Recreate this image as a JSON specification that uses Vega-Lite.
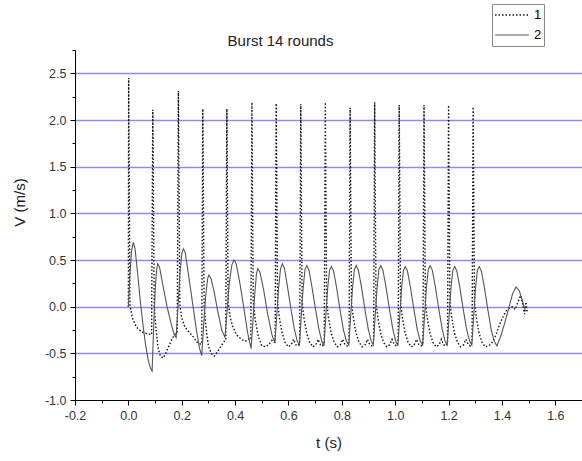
{
  "$schema": "https://vega.github.io/schema/vega-lite/v6.json",
  "width": 507,
  "height": 350,
  "autosize": {"type": "none"},
  "padding": {"left": 75, "top": 50, "right": 0, "bottom": 61},
  "background": "white",
  "title": {"text": "Burst 14 rounds", "font": "Liberation Sans", "fontSize": 15, "fontWeight": "normal", "color": "#222", "anchor": "middle", "dx": -48, "dy": 49, "offset": 4},
  "data": {"values": [
    {"s":"1","t":0,"v":0},{"s":"1","t":0.001,"v":2.45},{"s":"1","t":0.006,"v":0.02},{"s":"1","t":0.015,"v":-0.12},{"s":"1","t":0.03,"v":-0.22},{"s":"1","t":0.05,"v":-0.27},{"s":"1","t":0.07,"v":-0.29},{"s":"1","t":0.087,"v":-0.3},
    {"s":"1","t":0.0915,"v":2.11},{"s":"1","t":0.097,"v":0},{"s":"1","t":0.104,"v":-0.25},{"s":"1","t":0.112,"v":-0.45},{"s":"1","t":0.12,"v":-0.53},{"s":"1","t":0.13,"v":-0.55},{"s":"1","t":0.14,"v":-0.5},{"s":"1","t":0.152,"v":-0.42},{"s":"1","t":0.165,"v":-0.34},{"s":"1","t":0.176,"v":-0.29},{"s":"1","t":0.183,"v":-0.28},
    {"s":"1","t":0.1875,"v":2.31},{"s":"1","t":0.193,"v":0.02},{"s":"1","t":0.2,"v":-0.12},{"s":"1","t":0.212,"v":-0.22},{"s":"1","t":0.23,"v":-0.28},{"s":"1","t":0.245,"v":-0.33},{"s":"1","t":0.26,"v":-0.39},{"s":"1","t":0.27,"v":-0.4},{"s":"1","t":0.275,"v":-0.4},
    {"s":"1","t":0.279,"v":2.12},{"s":"1","t":0.284,"v":0},{"s":"1","t":0.292,"v":-0.25},{"s":"1","t":0.3,"v":-0.42},{"s":"1","t":0.31,"v":-0.5},{"s":"1","t":0.322,"v":-0.53},{"s":"1","t":0.335,"v":-0.48},{"s":"1","t":0.348,"v":-0.42},{"s":"1","t":0.36,"v":-0.37},{"s":"1","t":0.365,"v":-0.36},
    {"s":"1","t":0.369,"v":2.12},{"s":"1","t":0.374,"v":0.05},{"s":"1","t":0.382,"v":-0.12},{"s":"1","t":0.392,"v":-0.22},{"s":"1","t":0.405,"v":-0.3},{"s":"1","t":0.42,"v":-0.34},{"s":"1","t":0.435,"v":-0.37},{"s":"1","t":0.447,"v":-0.36},{"s":"1","t":0.455,"v":-0.33},{"s":"1","t":0.459,"v":-0.34},
    {"s":"1","t":0.463,"v":2.19},{"s":"1","t":0.468,"v":0.05},{"s":"1","t":0.476,"v":-0.15},{"s":"1","t":0.487,"v":-0.32},{"s":"1","t":0.5,"v":-0.42},{"s":"1","t":0.515,"v":-0.43},{"s":"1","t":0.528,"v":-0.4},{"s":"1","t":0.538,"v":-0.36},{"s":"1","t":0.546,"v":-0.38},{"s":"1","t":0.55,"v":-0.38},
    {"s":"1","t":0.554,"v":2.18},{"s":"1","t":0.559,"v":0.05},{"s":"1","t":0.566,"v":-0.12},{"s":"1","t":0.576,"v":-0.28},{"s":"1","t":0.587,"v":-0.38},{"s":"1","t":0.599,"v":-0.43},{"s":"1","t":0.61,"v":-0.41},{"s":"1","t":0.619,"v":-0.35},{"s":"1","t":0.628,"v":-0.41},{"s":"1","t":0.636,"v":-0.42},{"s":"1","t":0.642,"v":-0.38},
    {"s":"1","t":0.646,"v":2.17},{"s":"1","t":0.651,"v":0.05},{"s":"1","t":0.658,"v":-0.12},{"s":"1","t":0.668,"v":-0.28},{"s":"1","t":0.679,"v":-0.38},{"s":"1","t":0.691,"v":-0.43},{"s":"1","t":0.702,"v":-0.41},{"s":"1","t":0.711,"v":-0.35},{"s":"1","t":0.72,"v":-0.41},{"s":"1","t":0.728,"v":-0.42},{"s":"1","t":0.734,"v":-0.38},
    {"s":"1","t":0.738,"v":2.19},{"s":"1","t":0.743,"v":0.05},{"s":"1","t":0.75,"v":-0.12},{"s":"1","t":0.76,"v":-0.28},{"s":"1","t":0.771,"v":-0.38},{"s":"1","t":0.783,"v":-0.43},{"s":"1","t":0.794,"v":-0.41},{"s":"1","t":0.803,"v":-0.35},{"s":"1","t":0.812,"v":-0.41},{"s":"1","t":0.82,"v":-0.42},{"s":"1","t":0.827,"v":-0.38},
    {"s":"1","t":0.831,"v":2.13},{"s":"1","t":0.836,"v":0.05},{"s":"1","t":0.843,"v":-0.12},{"s":"1","t":0.853,"v":-0.28},{"s":"1","t":0.864,"v":-0.38},{"s":"1","t":0.876,"v":-0.43},{"s":"1","t":0.887,"v":-0.41},{"s":"1","t":0.896,"v":-0.35},{"s":"1","t":0.905,"v":-0.41},{"s":"1","t":0.913,"v":-0.42},{"s":"1","t":0.919,"v":-0.38},
    {"s":"1","t":0.923,"v":2.19},{"s":"1","t":0.928,"v":0.05},{"s":"1","t":0.935,"v":-0.12},{"s":"1","t":0.945,"v":-0.28},{"s":"1","t":0.956,"v":-0.38},{"s":"1","t":0.968,"v":-0.43},{"s":"1","t":0.979,"v":-0.41},{"s":"1","t":0.988,"v":-0.35},{"s":"1","t":0.997,"v":-0.41},{"s":"1","t":1.005,"v":-0.42},{"s":"1","t":1.011,"v":-0.38},
    {"s":"1","t":1.015,"v":2.16},{"s":"1","t":1.02,"v":0.05},{"s":"1","t":1.027,"v":-0.12},{"s":"1","t":1.037,"v":-0.28},{"s":"1","t":1.048,"v":-0.38},{"s":"1","t":1.06,"v":-0.43},{"s":"1","t":1.071,"v":-0.41},{"s":"1","t":1.08,"v":-0.35},{"s":"1","t":1.089,"v":-0.41},{"s":"1","t":1.097,"v":-0.42},{"s":"1","t":1.104,"v":-0.38},
    {"s":"1","t":1.108,"v":2.16},{"s":"1","t":1.113,"v":0.05},{"s":"1","t":1.12,"v":-0.12},{"s":"1","t":1.13,"v":-0.28},{"s":"1","t":1.141,"v":-0.38},{"s":"1","t":1.153,"v":-0.43},{"s":"1","t":1.164,"v":-0.41},{"s":"1","t":1.173,"v":-0.35},{"s":"1","t":1.182,"v":-0.41},{"s":"1","t":1.19,"v":-0.42},{"s":"1","t":1.196,"v":-0.38},
    {"s":"1","t":1.2,"v":2.16},{"s":"1","t":1.205,"v":0.05},{"s":"1","t":1.212,"v":-0.12},{"s":"1","t":1.222,"v":-0.28},{"s":"1","t":1.233,"v":-0.38},{"s":"1","t":1.245,"v":-0.43},{"s":"1","t":1.256,"v":-0.41},{"s":"1","t":1.265,"v":-0.35},{"s":"1","t":1.274,"v":-0.41},{"s":"1","t":1.282,"v":-0.42},{"s":"1","t":1.288,"v":-0.38},
    {"s":"1","t":1.292,"v":2.14},{"s":"1","t":1.297,"v":0.05},{"s":"1","t":1.304,"v":-0.12},{"s":"1","t":1.314,"v":-0.28},{"s":"1","t":1.325,"v":-0.38},{"s":"1","t":1.337,"v":-0.43},{"s":"1","t":1.35,"v":-0.42},{"s":"1","t":1.36,"v":-0.4},{"s":"1","t":1.375,"v":-0.32},{"s":"1","t":1.39,"v":-0.2},{"s":"1","t":1.405,"v":-0.1},{"s":"1","t":1.42,"v":-0.03},{"s":"1","t":1.44,"v":0},{"s":"1","t":1.45,"v":-0.03},{"s":"1","t":1.46,"v":0.05},{"s":"1","t":1.47,"v":0.12},{"s":"1","t":1.478,"v":0.02},{"s":"1","t":1.485,"v":-0.08},{"s":"1","t":1.49,"v":0.05},{"s":"1","t":1.495,"v":-0.06},
    {"s":"2","t":0,"v":0},{"s":"2","t":0.006,"v":0.35},{"s":"2","t":0.012,"v":0.6},{"s":"2","t":0.0185,"v":0.69},{"s":"2","t":0.025,"v":0.62},{"s":"2","t":0.035,"v":0.35},{"s":"2","t":0.045,"v":0.05},{"s":"2","t":0.055,"v":-0.2},{"s":"2","t":0.065,"v":-0.42},{"s":"2","t":0.075,"v":-0.58},{"s":"2","t":0.083,"v":-0.66},{"s":"2","t":0.089,"v":-0.69},
    {"s":"2","t":0.095,"v":-0.2},{"s":"2","t":0.101,"v":0.2},{"s":"2","t":0.106,"v":0.4},{"s":"2","t":0.11,"v":0.46},{"s":"2","t":0.117,"v":0.42},{"s":"2","t":0.13,"v":0.22},{"s":"2","t":0.145,"v":0},{"s":"2","t":0.16,"v":-0.18},{"s":"2","t":0.172,"v":-0.3},{"s":"2","t":0.179,"v":-0.33},
    {"s":"2","t":0.186,"v":0},{"s":"2","t":0.193,"v":0.35},{"s":"2","t":0.2,"v":0.56},{"s":"2","t":0.206,"v":0.62},{"s":"2","t":0.213,"v":0.58},{"s":"2","t":0.225,"v":0.35},{"s":"2","t":0.24,"v":0.05},{"s":"2","t":0.255,"v":-0.25},{"s":"2","t":0.267,"v":-0.45},{"s":"2","t":0.275,"v":-0.525},
    {"s":"2","t":0.282,"v":-0.2},{"s":"2","t":0.29,"v":0.12},{"s":"2","t":0.297,"v":0.3},{"s":"2","t":0.302,"v":0.34},{"s":"2","t":0.31,"v":0.3},{"s":"2","t":0.322,"v":0.15},{"s":"2","t":0.335,"v":-0.05},{"s":"2","t":0.35,"v":-0.25},{"s":"2","t":0.362,"v":-0.33},
    {"s":"2","t":0.37,"v":-0.05},{"s":"2","t":0.378,"v":0.25},{"s":"2","t":0.388,"v":0.45},{"s":"2","t":0.396,"v":0.5},{"s":"2","t":0.404,"v":0.46},{"s":"2","t":0.418,"v":0.25},{"s":"2","t":0.432,"v":0},{"s":"2","t":0.447,"v":-0.28},{"s":"2","t":0.46,"v":-0.45},
    {"s":"2","t":0.467,"v":-0.15},{"s":"2","t":0.474,"v":0.15},{"s":"2","t":0.48,"v":0.35},{"s":"2","t":0.485,"v":0.41},{"s":"2","t":0.493,"v":0.37},{"s":"2","t":0.507,"v":0.18},{"s":"2","t":0.522,"v":-0.08},{"s":"2","t":0.538,"v":-0.3},{"s":"2","t":0.549,"v":-0.39},
    {"s":"2","t":0.556,"v":-0.1},{"s":"2","t":0.563,"v":0.2},{"s":"2","t":0.57,"v":0.4},{"s":"2","t":0.577,"v":0.46},{"s":"2","t":0.585,"v":0.41},{"s":"2","t":0.596,"v":0.22},{"s":"2","t":0.609,"v":-0.02},{"s":"2","t":0.622,"v":-0.24},{"s":"2","t":0.633,"v":-0.37},{"s":"2","t":0.641,"v":-0.41},
    {"s":"2","t":0.648,"v":-0.1},{"s":"2","t":0.655,"v":0.2},{"s":"2","t":0.662,"v":0.4},{"s":"2","t":0.669,"v":0.44},{"s":"2","t":0.677,"v":0.39},{"s":"2","t":0.688,"v":0.21},{"s":"2","t":0.701,"v":-0.02},{"s":"2","t":0.714,"v":-0.24},{"s":"2","t":0.725,"v":-0.37},{"s":"2","t":0.733,"v":-0.42},
    {"s":"2","t":0.74,"v":-0.1},{"s":"2","t":0.747,"v":0.2},{"s":"2","t":0.754,"v":0.39},{"s":"2","t":0.761,"v":0.43},{"s":"2","t":0.769,"v":0.38},{"s":"2","t":0.78,"v":0.21},{"s":"2","t":0.793,"v":-0.03},{"s":"2","t":0.806,"v":-0.25},{"s":"2","t":0.817,"v":-0.37},{"s":"2","t":0.826,"v":-0.41},
    {"s":"2","t":0.833,"v":-0.1},{"s":"2","t":0.84,"v":0.2},{"s":"2","t":0.847,"v":0.4},{"s":"2","t":0.854,"v":0.44},{"s":"2","t":0.862,"v":0.39},{"s":"2","t":0.873,"v":0.22},{"s":"2","t":0.886,"v":-0.02},{"s":"2","t":0.899,"v":-0.24},{"s":"2","t":0.91,"v":-0.37},{"s":"2","t":0.918,"v":-0.41},
    {"s":"2","t":0.925,"v":-0.1},{"s":"2","t":0.932,"v":0.2},{"s":"2","t":0.939,"v":0.4},{"s":"2","t":0.946,"v":0.44},{"s":"2","t":0.954,"v":0.39},{"s":"2","t":0.965,"v":0.22},{"s":"2","t":0.978,"v":-0.02},{"s":"2","t":0.991,"v":-0.24},{"s":"2","t":1.002,"v":-0.37},{"s":"2","t":1.01,"v":-0.42},
    {"s":"2","t":1.017,"v":-0.1},{"s":"2","t":1.024,"v":0.2},{"s":"2","t":1.031,"v":0.39},{"s":"2","t":1.038,"v":0.43},{"s":"2","t":1.046,"v":0.38},{"s":"2","t":1.057,"v":0.21},{"s":"2","t":1.07,"v":-0.03},{"s":"2","t":1.083,"v":-0.25},{"s":"2","t":1.094,"v":-0.37},{"s":"2","t":1.103,"v":-0.41},
    {"s":"2","t":1.11,"v":-0.1},{"s":"2","t":1.117,"v":0.2},{"s":"2","t":1.124,"v":0.4},{"s":"2","t":1.131,"v":0.44},{"s":"2","t":1.139,"v":0.39},{"s":"2","t":1.15,"v":0.22},{"s":"2","t":1.163,"v":-0.02},{"s":"2","t":1.176,"v":-0.24},{"s":"2","t":1.187,"v":-0.37},{"s":"2","t":1.195,"v":-0.41},
    {"s":"2","t":1.202,"v":-0.1},{"s":"2","t":1.209,"v":0.2},{"s":"2","t":1.216,"v":0.39},{"s":"2","t":1.223,"v":0.43},{"s":"2","t":1.231,"v":0.38},{"s":"2","t":1.242,"v":0.21},{"s":"2","t":1.255,"v":-0.03},{"s":"2","t":1.268,"v":-0.25},{"s":"2","t":1.279,"v":-0.37},{"s":"2","t":1.287,"v":-0.41},
    {"s":"2","t":1.294,"v":-0.1},{"s":"2","t":1.301,"v":0.2},{"s":"2","t":1.308,"v":0.39},{"s":"2","t":1.315,"v":0.43},{"s":"2","t":1.323,"v":0.38},{"s":"2","t":1.334,"v":0.21},{"s":"2","t":1.347,"v":-0.03},{"s":"2","t":1.36,"v":-0.25},{"s":"2","t":1.371,"v":-0.37},{"s":"2","t":1.381,"v":-0.42},
    {"s":"2","t":1.395,"v":-0.32},{"s":"2","t":1.41,"v":-0.18},{"s":"2","t":1.425,"v":-0.02},{"s":"2","t":1.44,"v":0.14},{"s":"2","t":1.453,"v":0.21},{"s":"2","t":1.465,"v":0.17},{"s":"2","t":1.477,"v":0.06},{"s":"2","t":1.487,"v":-0.04}
  ]},
  "mark": {"type": "line", "clip": true},
  "encoding": {
    "x": {
      "field": "t", "type": "quantitative",
      "scale": {"domain": [-0.2, 1.7], "nice": false, "zero": false},
      "axis": {
        "title": "t (s)",
        "values": [-0.2,-0.1,0,0.1,0.2,0.3,0.4,0.5,0.6,0.7,0.8,0.9,1.0,1.1,1.2,1.3,1.4,1.5,1.6,1.7],
        "labelExpr": "abs(round(datum.value*10)) % 2 == 0 ? (datum.value < -0.001 ? '-' : '') + format(abs(datum.value), '.1f') : ''",
        "tickSize": {"condition": {"test": "abs(round(datum.value*10)) % 2 == 0", "value": 5}, "value": 3},
        "grid": false,
        "labelPadding": 4,
        "labelFlush": false,
        "labelOverlap": false,
        "titleY": 35,
        "titleBaseline": "top"
      }
    },
    "y": {
      "field": "v", "type": "quantitative",
      "scale": {"domain": [-1, 2.75], "nice": false, "zero": false},
      "axis": {
        "title": "V (m/s)",
        "values": [-1,-0.75,-0.5,-0.25,0,0.25,0.5,0.75,1,1.25,1.5,1.75,2,2.25,2.5,2.75],
        "labelExpr": "abs(round(datum.value*4)) % 2 == 0 ? (datum.value < -0.001 ? '-' : '') + format(abs(datum.value), '.1f') : ''",
        "tickSize": {"condition": {"test": "abs(round(datum.value*4)) % 2 == 0", "value": 5}, "value": 3},
        "grid": true,
        "gridColor": "#8c8cf0",
        "gridWidth": 1.5,
        "gridOpacity": {"condition": {"test": "abs(round(datum.value*4)) % 2 == 0 && datum.value > -0.9 && datum.value < 2.6", "value": 1}, "value": 0},
        "labelPadding": 4,
        "labelFlush": false,
        "labelOverlap": false,
        "titleX": -56,
        "titleY": 152,
        "titleAngle": -90,
        "titleAlign": "center",
        "titleBaseline": "middle"
      }
    },
    "color": {
      "field": "s", "type": "nominal",
      "scale": {"domain": ["1", "2"], "range": ["#111111", "#555555"]},
      "legend": {"title": null}
    },
    "strokeDash": {
      "field": "s", "type": "nominal",
      "scale": {"domain": ["1", "2"], "range": [[1.5, 2], [1, 0]]},
      "legend": {"title": null}
    },
    "strokeWidth": {
      "field": "s", "type": "nominal",
      "scale": {"domain": ["1", "2"], "range": [1.4, 1.1]},
      "legend": null
    }
  },
  "config": {
    "view": {"stroke": null},
    "axis": {
      "domainColor": "#000000",
      "domainWidth": 1,
      "tickColor": "#000000",
      "labelFont": "Liberation Sans",
      "labelFontSize": 12.5,
      "labelColor": "#333333",
      "titleFont": "Liberation Sans",
      "titleFontSize": 15,
      "titleFontWeight": "normal",
      "titleColor": "#222222"
    },
    "legend": {
      "orient": "none",
      "legendX": 417,
      "legendY": -46,
      "strokeColor": "#888888",
      "fillColor": "white",
      "padding": 2,
      "symbolType": "stroke",
      "symbolSize": 1150,
      "symbolStrokeWidth": 1,
      "clipHeight": 18,
      "labelFont": "Liberation Sans",
      "labelFontSize": 13,
      "labelColor": "#000000",
      "labelOffset": 4,
      "rowPadding": 2
    }
  }
}
